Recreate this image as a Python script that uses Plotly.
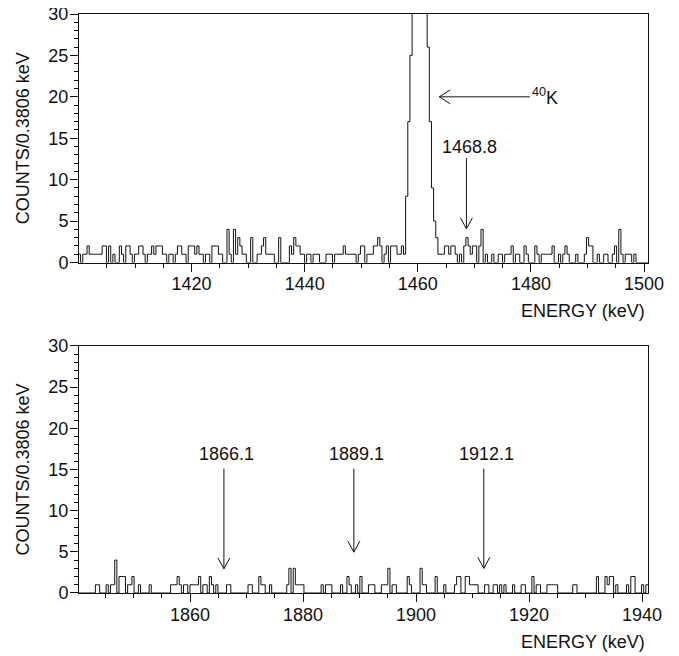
import plotly.graph_objects as go

# ---------------- data ----------------
BIN = 0.3806  # keV per channel

top_start = 1400.0
bot_start = 1840.2

# top spectrum (1400-1500 keV), counts per channel
top_a = [1, 0, 1, 1, 2, 1, 1, 1, 1, 1, 1, 2, 2, 0, 2, 0, 1, 0, 0, 2,
         1, 0, 2, 2, 1, 0, 1, 1, 2, 2, 1, 0, 1, 1, 2, 1, 2, 2, 2, 1,
         1, 0, 1, 1, 0, 1, 2, 2, 1, 1, 0, 2, 2, 2, 1, 2, 1, 1, 0, 1,
         1, 0, 2, 2]
top_b = [2, 1, 1, 0, 0, 4, 1, 0, 4, 1, 3, 2, 1, 1, 0, 0, 3, 0, 0, 1,
         1, 2, 3, 1, 1, 1, 1, 0, 0, 3, 0, 0, 0, 0, 2, 1, 3, 2, 2, 1,
         1, 0, 1, 1, 0, 1, 1, 1, 0, 0, 0, 1, 1, 1, 0, 1, 1, 1, 1, 2,
         1, 1]
top_c = [1, 1, 1, 0, 1, 2, 2, 0, 1, 1, 1, 2, 2, 3, 2, 0, 1, 2, 0, 2,
         2, 2, 1, 1, 2, 1]
top_peak = [8, 17, 25, 45, 90, 140, 165, 130, 80, 40, 26, 17, 9, 5, 3, 1]
top_d = [1, 1, 2, 2, 1, 2, 2, 1, 0, 1, 0, 2, 3, 2, 1, 2, 2, 0, 2, 4,
         0, 1, 0, 0, 1, 0, 0]
top_e = [1, 1, 0, 1, 1, 1, 2, 0, 1, 1, 0, 0, 2, 1, 0, 0, 0, 2, 1, 0,
         1, 1, 1, 1, 1, 2, 0, 0, 1, 0, 1, 2, 1, 0, 0, 0, 1, 0, 0, 0,
         1, 3, 2, 2, 0, 0, 1, 0, 0, 1, 1, 0, 0, 1, 2, 0, 4, 1, 0, 1,
         1, 1, 0, 1, 0, 0, 0, 0, 0, 0]
counts_top = top_a + top_b + top_c + top_peak + top_d + top_e

# bottom spectrum (1840-1940 keV)
bot_a = [0, 0, 0, 0, 0, 0, 0, 0, 1, 1, 0, 0, 0, 1, 0, 1, 1, 4, 0, 2,
         2, 2, 0, 1, 1, 2, 0, 0, 1, 0, 0, 0, 0, 1, 0, 0, 0, 0, 0, 0,
         0, 0, 0, 1, 1, 1, 2, 1, 0, 1, 1, 0, 1, 1, 1, 1, 2, 0, 1, 1,
         0, 2, 1, 0, 1]
bot_b = [0, 0, 0, 0, 1, 1, 0, 0, 0, 0, 0, 0, 0, 0, 1, 1, 0, 0, 0, 2,
         1, 1, 0, 0, 1, 0, 0, 0, 0, 0, 0, 0, 1, 3, 0, 3, 1, 1, 1, 1,
         0, 0, 0, 0, 0, 0, 0, 0, 1, 0, 1, 1, 1, 0, 0, 0, 0, 1, 0, 0,
         2, 1, 0, 0, 1]
bot_c = [0, 2, 0, 0, 0, 1, 1, 1, 0, 0, 0, 1, 1, 1, 3, 0, 1, 1, 0, 0,
         0, 0, 0, 2, 1, 0, 0, 0, 0, 3, 1, 1, 0, 0, 0, 0, 2, 0, 0, 0,
         1, 0, 0, 0, 0, 1, 2, 2, 0, 0, 2, 2, 1, 1, 1, 1, 0, 0, 0, 1,
         1, 0, 0, 1, 1]
bot_d = [0, 1, 0, 1, 0, 0, 0, 1, 0, 0, 0, 1, 1, 0, 0, 0, 2, 0, 1, 1,
         0, 0, 0, 1, 1, 1, 1, 1, 0, 0, 0, 0, 0, 0, 0, 1, 1, 0, 0, 0,
         0, 0, 0, 0, 0, 0, 2, 0, 0, 0, 2, 1, 2, 2, 0, 1, 0, 0, 0, 0,
         1, 0, 2, 2, 0, 0, 0, 1, 0, 1]
counts_bottom = bot_a + bot_b + bot_c + bot_d

# annotated lines
top_lines = [1468.8]
bottom_lines = [1866.1, 1889.1, 1912.1]
bottom_tips = [2.94, 4.96, 3.0]
k40_energy = 1463.8

# ---------------- layout constants ----------------
# the page body adds an 8px margin, so the figure is 8px smaller than the window
W, H = 671, 648
ML, MR, MT, MB = 71, 31, 6, 63
top_xrange = [1400.1, 1500.7]
bot_xrange = [1840.35, 1941.06]
yrange = [0, 30]
top_dom = [0.5708, 1.0]
bot_dom = [0.0, 0.4266]

FONT = "Liberation Sans, Arial, Helvetica, sans-serif"
FS = 18
INK = "#111111"

pw = W - ML - MR
ph = H - MT - MB


def px_scale(xr, dom):
    sx = pw / (xr[1] - xr[0])
    sy = ph * (dom[1] - dom[0]) / (yrange[1] - yrange[0])
    return sx, sy


def steps(start, counts):
    edges = [start + BIN * k for k in range(len(counts) + 1)]
    return edges, counts + [counts[-1]]


fig = go.Figure()
xt, yt = steps(top_start, counts_top)
xb, yb = steps(bot_start, counts_bottom)
fig.add_trace(go.Scatter(x=xt, y=yt, mode="lines", line=dict(shape="hv", color=INK, width=1),
                         xaxis="x", yaxis="y", showlegend=False, hoverinfo="skip"))
fig.add_trace(go.Scatter(x=xb, y=yb, mode="lines", line=dict(shape="hv", color=INK, width=1),
                         xaxis="x2", yaxis="y2", showlegend=False, hoverinfo="skip"))

shapes = []
annotations = []


def line(x0, y0, x1, y1, xr, yr):
    shapes.append(dict(type="line", x0=x0, y0=y0, x1=x1, y1=y1, xref=xr, yref=yr,
                       line=dict(color=INK, width=1)))


def down_arrow(x, ytop, ytip, xr, yr, sx, sy, hw=6, hl=11):
    line(x, ytop, x, ytip, xr, yr)
    line(x, ytip, x - hw / sx, ytip + hl / sy, xr, yr)
    line(x, ytip, x + hw / sx, ytip + hl / sy, xr, yr)


sxt, syt = px_scale(top_xrange, top_dom)
sxb, syb = px_scale(bot_xrange, bot_dom)

# 40K horizontal arrow
k_tail = 1479.8
k_y = 20.0
line(k_tail, k_y, k40_energy, k_y, "x", "y")
line(k40_energy, k_y, k40_energy + 11 / sxt, k_y + 7 / syt, "x", "y")
line(k40_energy, k_y, k40_energy + 11 / sxt, k_y - 7 / syt, "x", "y")
annotations.append(dict(x=k_tail, y=k_y, xref="x", yref="y", text="<sup>40</sup>K",
                        showarrow=False, xanchor="left", yanchor="middle",
                        font=dict(family=FONT, size=FS, color=INK)))

# 1468.8 arrow
for e in top_lines:
    down_arrow(e - 0.2, 12.6, 4.07, "x", "y", sxt, syt)
    annotations.append(dict(x=e + 0.3, y=13.9, xref="x", yref="y", text=f"{e:.1f}",
                            showarrow=False, xanchor="center", yanchor="middle",
                            font=dict(family=FONT, size=FS, color=INK)))

for e, tip in zip(bottom_lines, bottom_tips):
    down_arrow(e - 0.1, 15.1, tip, "x2", "y2", sxb, syb)
    annotations.append(dict(x=e + 0.3, y=16.9, xref="x2", yref="y2", text=f"{e:.1f}",
                            showarrow=False, xanchor="center", yanchor="middle",
                            font=dict(family=FONT, size=FS, color=INK)))

# axis titles
for dom in (top_dom, bot_dom):
    annotations.append(dict(x=-56 / pw, y=(dom[0] + dom[1]) / 2, xref="paper", yref="paper",
                            text="COUNTS/0.3806 keV", textangle=-90, showarrow=False,
                            xanchor="center", yanchor="middle",
                            font=dict(family=FONT, size=FS, color=INK)))
    annotations.append(dict(x=(pw - 1) / pw, y=dom[0] - 48.5 / ph, xref="paper", yref="paper",
                            text="ENERGY (keV)", showarrow=False,
                            xanchor="right", yanchor="middle",
                            font=dict(family=FONT, size=FS, color=INK)))

axis_common = dict(showline=True, linecolor=INK, linewidth=1, mirror=True,
                   ticks="outside", ticklen=8, tickwidth=1, tickcolor=INK,
                   showgrid=False, zeroline=False, automargin=False,
                   ticklabeloverflow="allow",
                   tickfont=dict(family=FONT, size=FS, color=INK))

fig.update_layout(
    width=W, height=H,
    margin=dict(l=ML, r=MR, t=MT, b=MB),
    paper_bgcolor="white", plot_bgcolor="white",
    xaxis=dict(range=top_xrange, anchor="y", dtick=20, tick0=1400, ticklabelstandoff=-3,
               minor=dict(ticks="outside", ticklen=4, dtick=5, tick0=1400, tickcolor=INK),
               **axis_common),
    yaxis=dict(range=yrange, domain=top_dom, anchor="x", dtick=5, tick0=0, ticklabelstandoff=-2,
               minor=dict(ticks="outside", ticklen=4, dtick=1, tick0=0, tickcolor=INK),
               **axis_common),
    xaxis2=dict(range=bot_xrange, anchor="y2", dtick=20, tick0=1840, ticklabelstandoff=-3,
                minor=dict(ticks="outside", ticklen=4, dtick=5, tick0=1840, tickcolor=INK),
                **axis_common),
    yaxis2=dict(range=yrange, domain=bot_dom, anchor="x2", dtick=5, tick0=0, ticklabelstandoff=-2,
                minor=dict(ticks="outside", ticklen=4, dtick=1, tick0=0, tickcolor=INK),
                **axis_common),
    shapes=shapes,
    annotations=annotations,
)

fig.write_html("out.html")
